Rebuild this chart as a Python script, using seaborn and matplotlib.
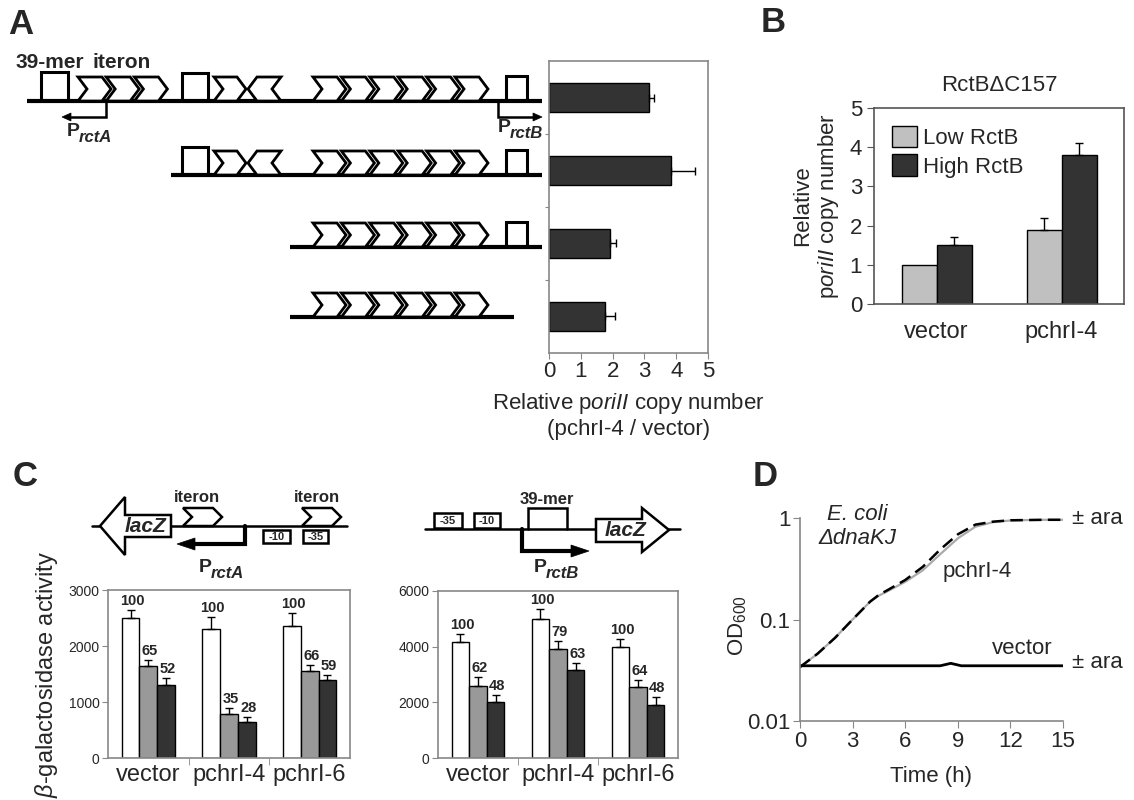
import matplotlib
matplotlib.use("Agg")
import matplotlib.pyplot as plt
import seaborn as sns
import pandas as pd
from matplotlib.patches import Polygon

sns.set_style("ticks")
plt.rcParams['font.family'] = ['Liberation Sans', 'DejaVu Sans']
plt.rcParams['mathtext.fontset'] = 'custom'
plt.rcParams['mathtext.rm'] = 'Liberation Sans'
plt.rcParams['mathtext.it'] = 'Liberation Sans:italic'
plt.rcParams['mathtext.bf'] = 'Liberation Sans:bold'

# ---- data ----
# A: relative poriII copy number for the 4 constructs
a_constructs = ["full", "del1", "del2", "del3"]
a_ratio = [3.15, 3.85, 1.92, 1.75]
a_err = [0.15, 0.75, 0.20, 0.32]

# B: RctBdC157
b_plasmids = ["vector", "pchrI-4"]
b_levels = ["Low RctB", "High RctB"]
b_low = [1.0, 1.9]
b_low_err = [0.0, 0.3]
b_high = [1.5, 3.8]
b_high_err = [0.2, 0.3]

# C: beta-galactosidase activity
c_plasmids = ["vector", "pchrI-4", "pchrI-6"]
c_conds = ["none", "low", "high"]
ca_none = [2500, 2300, 2360]
ca_low = [1650, 790, 1550]
ca_high = [1300, 650, 1390]
ca_none_err = [150, 220, 230]
ca_low_err = [100, 100, 110]
ca_high_err = [130, 80, 100]
ca_pct = [[100, 100, 100], [65, 35, 66], [52, 28, 59]]

cb_none = [4150, 5000, 3980]
cb_low = [2600, 3920, 2550]
cb_high = [2000, 3150, 1900]
cb_none_err = [300, 370, 300]
cb_low_err = [300, 300, 270]
cb_high_err = [250, 280, 300]
cb_pct = [[100, 100, 100], [62, 79, 64], [48, 63, 48]]

# D: growth curves
time_h = [0, 1, 2, 3, 4, 4.5, 5, 6, 7, 8, 9, 10, 11, 12, 13, 14, 15]
od_pchr4_dash = [0.034, 0.046, 0.066, 0.100, 0.150, 0.175, 0.195, 0.245, 0.330, 0.490, 0.690, 0.860, 0.920, 0.950, 0.955, 0.960, 0.960]
od_pchr4_gray = [0.034, 0.046, 0.066, 0.100, 0.150, 0.172, 0.190, 0.235, 0.305, 0.440, 0.630, 0.820, 0.910, 0.945, 0.955, 0.960, 0.960]
time_vec = [0, 2, 4, 6, 8, 8.6, 9.2, 10, 12, 15]
od_vector = [0.035, 0.035, 0.035, 0.035, 0.035, 0.037, 0.035, 0.035, 0.035, 0.035]

W, H = 1134, 800
DARK = "#333333"
SPINE = "#888888"

fig = plt.figure(figsize=(W / 100, H / 100), dpi=100)


def px_axes(l, t, r, b):
    ax = fig.add_axes([l / W, 1 - b / H, (r - l) / W, (b - t) / H])
    ax.set_facecolor("none")
    return ax


def grey_box(ax, color=SPINE, sides=("left", "right", "top", "bottom")):
    for s in ("left", "right", "top", "bottom"):
        ax.spines[s].set_visible(s in sides)
        ax.spines[s].set_color(color)
        ax.spines[s].set_linewidth(1.2)


def up_errors(ax, errs, horizontal=False):
    for cont, ee in zip(ax.containers, errs):
        for bar, e in zip(cont, ee):
            if e <= 0:
                continue
            if horizontal:
                xv = bar.get_width()
                yc = bar.get_y() + bar.get_height() / 2
                ax.errorbar(xv, yc, xerr=[[0], [e]], fmt="none", ecolor="black", elinewidth=1, capsize=3, capthick=1)
            else:
                xc = bar.get_x() + bar.get_width() / 2
                ax.errorbar(xc, bar.get_height(), yerr=[[0], [e]], fmt="none", ecolor="black", elinewidth=1, capsize=3, capthick=1)


# ---- panel A bars ----
axA = px_axes(549, 61, 708, 353)
sns.barplot(x=a_ratio, y=a_constructs, orient="h", color=DARK, edgecolor="black", linewidth=1, width=0.4, errorbar=None, ax=axA)
up_errors(axA, [a_err], horizontal=True)
axA.set_xlim(0, 5)
axA.set_xticks(range(6))
axA.set_yticks([0.5, 1.5, 2.5])
axA.set_yticklabels([])
axA.set_ylim(3.5, -0.5)
axA.tick_params(axis="x", labelsize=16, length=4, color=SPINE, pad=2)
axA.tick_params(axis="y", length=3, color=SPINE)
grey_box(axA)
axA.set_ylabel("")
axA.set_xlabel("Relative p$\\mathit{oriII}$ copy number\n(pchrI-4 / vector)", fontsize=16, labelpad=6)

# ---- panel B ----
axB = px_axes(874, 108, 1124, 304)
dfB = pd.DataFrame({
    "plasmid": b_plasmids * 2,
    "level": [b_levels[0]] * 2 + [b_levels[1]] * 2,
    "value": b_low + b_high,
})
sns.barplot(data=dfB, x="plasmid", y="value", hue="level", palette=["#c0c0c0", DARK], edgecolor="black",
            linewidth=1, width=0.56, errorbar=None, ax=axB)
up_errors(axB, [b_low_err, b_high_err])
axB.set_ylim(0, 5)
axB.set_xlim(-0.5, 1.5)
axB.set_yticks(range(6))
axB.set_xticks([0, 0.5, 1])
axB.set_xticklabels(["vector", "", "pchrI-4"])
axB.tick_params(axis="y", labelsize=16, length=5, color="#555555")
axB.tick_params(axis="x", labelsize=17, length=0, pad=12)
axB.set_xticks([0.5], minor=True)
axB.tick_params(axis="x", which="minor", length=6, color="#555555")
grey_box(axB, color="#555555")
axB.set_xlabel("")
axB.set_ylabel("Relative\np$\\mathit{oriII}$ copy number", fontsize=16, labelpad=6)
axB.set_title("RctB\u0394C157", fontsize=16, pad=12)
axB.legend(loc="upper left", bbox_to_anchor=(0.01, 0.99), frameon=False, fontsize=16, handlelength=1.1,
           handleheight=1.1, handletextpad=0.3, labelspacing=0.25, borderaxespad=0.3)

# ---- panel C charts ----
def activity_chart(box, none, low, high, errs, pct, ymax, step):
    ax = px_axes(*box)
    df = pd.DataFrame({
        "plasmid": c_plasmids * 3,
        "cond": [c_conds[0]] * 3 + [c_conds[1]] * 3 + [c_conds[2]] * 3,
        "value": none + low + high,
    })
    sns.barplot(data=df, x="plasmid", y="value", hue="cond", palette=["white", "#999999", DARK],
                edgecolor="black", linewidth=1, width=0.66, errorbar=None, legend=False, ax=ax)
    up_errors(ax, errs)
    for cont, ee, pp in zip(ax.containers, errs, pct):
        for bar, e, p in zip(cont, ee, pp):
            ax.text(bar.get_x() + bar.get_width() / 2 + 0.02, bar.get_height() + e + ymax * 0.012, str(p),
                    ha="center", va="bottom", fontsize=10.5, fontweight="bold")
    ax.set_ylim(0, ymax)
    ax.set_xlim(-0.5, 2.5)
    ax.set_yticks(range(0, ymax + 1, step))
    ax.tick_params(axis="y", labelsize=10, length=4, color=SPINE, pad=2)
    ax.tick_params(axis="x", labelsize=17, length=0, pad=4)
    ax.set_xticks([0.5, 1.5], minor=True)
    ax.tick_params(axis="x", which="minor", length=5, color=SPINE)
    grey_box(ax)
    ax.set_xlabel("")
    ax.set_ylabel("")
    return ax


axC1 = activity_chart((108, 590, 350, 758), ca_none, ca_low, ca_high,
                      [ca_none_err, ca_low_err, ca_high_err], ca_pct, 3000, 1000)
axC1.set_ylabel("$\\mathit{\u03b2}$-galactosidase activity", fontsize=17, labelpad=6)
axC2 = activity_chart((438, 591, 678, 758), cb_none, cb_low, cb_high,
                      [cb_none_err, cb_low_err, cb_high_err], cb_pct, 6000, 2000)

# ---- panel D ----
axD = px_axes(800, 518, 1063, 721)
axD.set_yscale("log")
sns.lineplot(x=time_h, y=od_pchr4_gray, color="#aaaaaa", linewidth=1.6, ax=axD)
sns.lineplot(x=time_h, y=od_pchr4_dash, color="black", linewidth=1.8, linestyle=(0, (5, 2.5)), ax=axD)
sns.lineplot(x=time_vec, y=od_vector, color="black", linewidth=2, ax=axD)
axD.set_xlim(0, 15)
axD.set_ylim(0.01, 1)
axD.set_xticks(range(0, 16, 3))
axD.set_yticks([0.01, 0.1, 1])
axD.set_yticklabels(["0.01", "0.1", "1"])
axD.minorticks_off()
axD.tick_params(axis="both", labelsize=16, length=5, color=SPINE, pad=2)
grey_box(axD, sides=("left", "bottom"))
axD.set_xlabel("Time (h)", fontsize=16, labelpad=10)
axD.set_ylabel("OD$_{600}$", fontsize=16)
axD.yaxis.set_label_coords(-0.195, 0.47)

# ---- overlay for diagrams and free text ----
ov = fig.add_axes([0, 0, 1, 1])
ov.set_xlim(0, W)
ov.set_ylim(H, 0)
ov.axis("off")


def chevron(x0, base, w=33, h=24, d=9, right=True, lw=2.0):
    top, mid = base - h, base - h / 2
    if right:
        pts = [(x0, top), (x0 + w - d, top), (x0 + w, mid), (x0 + w - d, base), (x0, base), (x0 + d, mid)]
    else:
        pts = [(x0 + w, top), (x0 + d, top), (x0, mid), (x0 + d, base), (x0 + w, base), (x0 + w - d, mid)]
    ov.add_patch(Polygon(pts, closed=True, facecolor="white", edgecolor="black", lw=lw, joinstyle="miter", zorder=3))


def box(x0, x1, base, h, lw=2.2):
    ov.plot([x0, x0, x1, x1], [base, base - h, base - h, base], color="black", lw=lw, zorder=3,
            solid_joinstyle="miter")


def rect_label(x0, x1, y0, y1, txt):
    ov.add_patch(Polygon([(x0, y0), (x1, y0), (x1, y1), (x0, y1)], closed=True, facecolor="white",
                         edgecolor="black", lw=1.8, zorder=3))
    ov.text((x0 + x1) / 2, (y0 + y1) / 2 + 0.5, txt, ha="center", va="center", fontsize=8, fontweight="bold", zorder=4)


def promoter(x, y, dy, x_end, sub, tx, ty, lw=1.8, head=9, bold_arrow=False, size=14):
    sgn = 1 if x_end > x else -1
    ov.plot([x, x, x_end - sgn * head], [y, y + dy, y + dy], color="black", lw=lw,
            solid_joinstyle="miter", zorder=3)
    hw = 4 if not bold_arrow else 6
    ov.add_patch(Polygon([(x_end, y + dy), (x_end - sgn * head, y + dy - hw), (x_end - sgn * head, y + dy + hw)],
                         closed=True, facecolor="black", edgecolor="black", lw=0.5, zorder=3))
    ov.text(tx, ty, "P", fontsize=size, fontweight="bold", ha="left", va="baseline")
    ov.text(tx + size * 0.85, ty + 6, sub, fontsize=size - 2, fontweight="bold", style="italic", ha="left", va="baseline")


# panel A diagram
rows = [(101, 27, 542), (175, 171, 542), (247, 290, 542), (317, 290, 514)]
for base, xa, xb in rows:
    ov.plot([xa, xb], [base, base], color="black", lw=3, zorder=2, solid_capstyle="butt")
for k in range(6):
    for base, _, _ in rows:
        chevron(313 + 28.4 * k, base)
for base in (101, 175):
    box(182, 208, base, 28)
    chevron(214, base, w=32)
    chevron(248, base, w=33, right=False)
for base in (101, 175, 247):
    box(506, 527, base, 25)
box(41, 68, 101, 29)
for k in range(3):
    chevron(78 + 28.2 * k, 101, w=33)
ov.text(50, 63, "39-mer", fontsize=15, fontweight="bold", ha="center", va="center")
ov.text(122, 63, "iteron", fontsize=15, fontweight="bold", ha="center", va="center")
promoter(106, 101, 16, 62, "rctA", 67, 136)
promoter(498, 101, 16, 542, "rctB", 498, 132)

# panel C left diagram
ov.plot([92, 347], [526, 526], color="black", lw=1.8, zorder=2)
ov.add_patch(Polygon([(100, 526), (125, 497), (125, 515), (171, 515), (171, 537), (125, 537), (125, 555)],
                     closed=True, facecolor="white", edgecolor="black", lw=1.8, zorder=3))
ov.text(146, 527, "lacZ", fontsize=15, fontweight="bold", style="italic", ha="center", va="center", zorder=4)
chevron(183, 526, w=39, h=18, d=9, lw=1.8)
chevron(302, 526, w=39, h=18, d=9, lw=1.8)
ov.text(197, 497, "iteron", fontsize=12, fontweight="bold", ha="center", va="center")
ov.text(317, 497, "iteron", fontsize=12, fontweight="bold", ha="center", va="center")
rect_label(263, 290, 530, 543, "-10")
rect_label(303, 328, 530, 543, "-35")
promoter(245, 526, 18, 177, "rctA", 199, 572, lw=3, head=18, bold_arrow=True)

# panel C right diagram
ov.plot([425, 680], [529, 529], color="black", lw=1.8, zorder=2)
rect_label(434, 462, 513, 528, "-35")
rect_label(474, 500, 513, 528, "-10")
box(528, 567, 529, 21, lw=1.8)
ov.text(547, 500, "39-mer", fontsize=12, fontweight="bold", ha="center", va="center")
promoter(522, 529, 22, 589, "rctB", 534, 572, lw=3, head=18, bold_arrow=True)
ov.add_patch(Polygon([(669, 530), (642, 508), (642, 519), (596, 519), (596, 542), (642, 542), (642, 552)],
                     closed=True, facecolor="white", edgecolor="black", lw=1.8, zorder=3))
ov.text(626, 531, "lacZ", fontsize=15, fontweight="bold", style="italic", ha="center", va="center", zorder=4)

# panel D annotations
ov.text(857, 515, "E. coli", fontsize=16, style="italic", ha="center", va="center")
ov.text(857, 538, "\u0394dnaKJ", fontsize=16, style="italic", ha="center", va="center")
ov.text(977, 572, "pchrI-4", fontsize=16, ha="center", va="center")
ov.text(1022, 648, "vector", fontsize=16, ha="center", va="center")
ov.text(1072, 519, "\u00b1 ara", fontsize=16, ha="left", va="center")
ov.text(1072, 662, "\u00b1 ara", fontsize=16, ha="left", va="center")

# panel letters
for lbl, x, y in [("A", 21, 24), ("B", 773, 22), ("C", 25, 477), ("D", 765, 477)]:
    ov.text(x, y, lbl, fontsize=25, fontweight="bold", ha="center", va="center")

fig.savefig("out.png", dpi=100)
